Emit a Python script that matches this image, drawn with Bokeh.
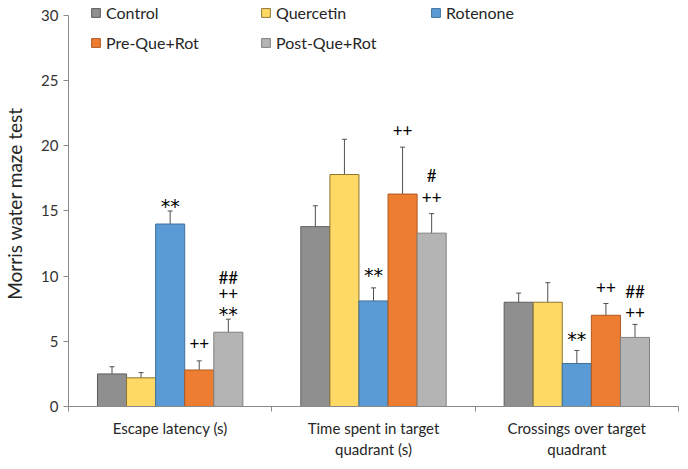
from bokeh.plotting import figure
from bokeh.models import (ColumnDataSource, Whisker, TeeHead, Legend, LegendItem,
                          FixedTicker, Range1d)
from bokeh.core.properties import value
from bokeh.embed import file_html
from bokeh.resources import INLINE

# ---------------- data ----------------
groups = ["Escape latency (s)", "Time spent in target\nquadrant (s)",
          "Crossings over target\nquadrant"]
series = ["Control", "Quercetin", "Rotenone", "Pre-Que+Rot", "Post-Que+Rot"]

control = [2.5, 13.8, 8.0]
quercetin = [2.2, 17.8, 8.0]
rotenone = [14.0, 8.1, 3.3]
pre_que_rot = [2.8, 16.3, 7.0]
post_que_rot = [5.7, 13.3, 5.3]

control_err = [0.55, 1.6, 0.7]
quercetin_err = [0.4, 2.7, 1.5]
rotenone_err = [1.0, 1.0, 1.0]
pre_que_rot_err = [0.7, 3.6, 0.9]
post_que_rot_err = [1.0, 1.5, 1.0]

# significance marks: group index, series index, label, y value
ann_group = [0, 0, 0, 0, 0, 1, 1, 1, 1, 2, 2, 2, 2]
ann_series = [2, 3, 4, 4, 4, 3, 4, 4, 2, 2, 3, 4, 4]
ann_label = ["**", "++", "##", "++", "**", "++", "#", "++", "**", "**", "++", "##", "++"]
ann_y = [15.8, 4.8, 9.9, 8.7, 7.45, 21.2, 17.7, 16.05, 10.5, 5.6, 9.1, 8.85, 7.25]

yticks = [0, 5, 10, 15, 20, 25, 30]
y_axis_max = 30

# ---------------- styles ----------------
fills = ["#8F8F8F", "#FFD966", "#5B9BD5", "#ED7D31", "#B4B4B4"]
edges = ["#5E5E5E", "#8C7632", "#41719C", "#AE5A21", "#808080"]
FONT = "Lato"
TXT = "#262626"
bar_w = 0.143

values = [control, quercetin, rotenone, pre_que_rot, post_que_rot]
errs = [control_err, quercetin_err, rotenone_err, pre_que_rot_err, post_que_rot_err]

p = figure(width=680, height=461, output_backend="svg", toolbar_location=None,
           x_range=Range1d(0, 3), y_range=Range1d(0, 31.15),
           min_border_left=68, min_border_right=2, min_border_top=0,
           min_border_bottom=54)
p.outline_line_color = None
p.grid.grid_line_color = None
p.background_fill_color = "white"

legend_items = []
for i, name in enumerate(series):
    off = (i - 2) * bar_w
    xs = [g + 0.5 + off for g in range(len(groups))]
    src = ColumnDataSource(dict(x=xs, top=values[i],
                                lo=[v - e for v, e in zip(values[i], errs[i])],
                                hi=[v + e for v, e in zip(values[i], errs[i])]))
    r = p.vbar(x="x", top="top", bottom=0, width=bar_w, source=src,
               fill_color=fills[i], line_color=edges[i], line_width=1)
    w = Whisker(source=src, base="x", lower="lo", upper="hi",
                line_color="#505050", line_width=1,
                upper_head=TeeHead(size=5, line_color="#505050", line_width=1),
                lower_head=TeeHead(size=5, line_color="#505050", line_width=1))
    p.add_layout(w)
    legend_items.append(LegendItem(label=name, renderers=[r]))

ann_x = [g + 0.5 + (s - 2) * bar_w for g, s in zip(ann_group, ann_series)]
star = [l == "**" for l in ann_label]
ssrc = ColumnDataSource(dict(x=[x for x, s in zip(ann_x, star) if s],
                             y=[y for y, s in zip(ann_y, star) if s],
                             t=[t for t, s in zip(ann_label, star) if s]))
osrc = ColumnDataSource(dict(x=[x for x, s in zip(ann_x, star) if not s],
                             y=[y for y, s in zip(ann_y, star) if not s],
                             t=[t for t, s in zip(ann_label, star) if not s]))
p.text(x="x", y="y", text="t", source=ssrc, text_align="center",
       text_baseline="middle", text_font=value("DejaVu Sans"), text_font_size="19px",
       text_color="#000000", y_offset=5)
p.text(x="x", y="y", text="t", source=osrc, text_align="center",
       text_baseline="middle", text_font=value(FONT), text_font_size="17px",
       text_color="#000000")

# y axis (line limited to 0..30)
p.yaxis.bounds = (0, y_axis_max)
p.yaxis.ticker = FixedTicker(ticks=yticks)
p.yaxis.minor_tick_line_color = None
p.yaxis.major_tick_out = 5
p.yaxis.major_tick_in = 0
p.yaxis.axis_line_color = "#8A8A8A"
p.yaxis.major_tick_line_color = "#8A8A8A"
p.yaxis.major_label_text_font = FONT
p.yaxis.major_label_text_font_size = "15px"
p.yaxis.major_label_text_color = "#333333"
p.yaxis.axis_label = "Morris water maze test"
p.yaxis.axis_label_text_font = FONT
p.yaxis.axis_label_text_font_style = "normal"
p.yaxis.axis_label_text_font_size = "19px"
p.yaxis.axis_label_text_color = TXT
p.yaxis.axis_label_standoff = 12

# x axis: labels at centres, short ticks at boundaries
centers = [g + 0.5 for g in range(len(groups))]
p.xaxis.ticker = FixedTicker(ticks=centers, minor_ticks=list(range(len(groups) + 1)))
p.xaxis.major_label_overrides = {c: g for c, g in zip(centers, groups)}
p.xaxis.major_tick_line_color = None
p.xaxis.major_tick_out = 0
p.xaxis.major_tick_in = 0
p.xaxis.minor_tick_out = 5
p.xaxis.minor_tick_in = 0
p.xaxis.minor_tick_line_color = "#8A8A8A"
p.xaxis.axis_line_color = "#8A8A8A"
p.xaxis.major_label_text_font = FONT
p.xaxis.major_label_text_font_size = "15px"
p.xaxis.major_label_text_color = TXT
p.xaxis.major_label_standoff = 7

legend = Legend(items=legend_items, location=(22, 354), orientation="horizontal",
                nrows=2, glyph_width=11, glyph_height=11, label_standoff=5,
                label_width=143, label_height=18, spacing=11, padding=0, margin=0,
                label_text_font=FONT, label_text_font_size="16px",
                label_text_color=TXT,
                background_fill_alpha=0, border_line_color=None)
p.add_layout(legend, "center")

open("out.html", "w").write(file_html(p, INLINE))
